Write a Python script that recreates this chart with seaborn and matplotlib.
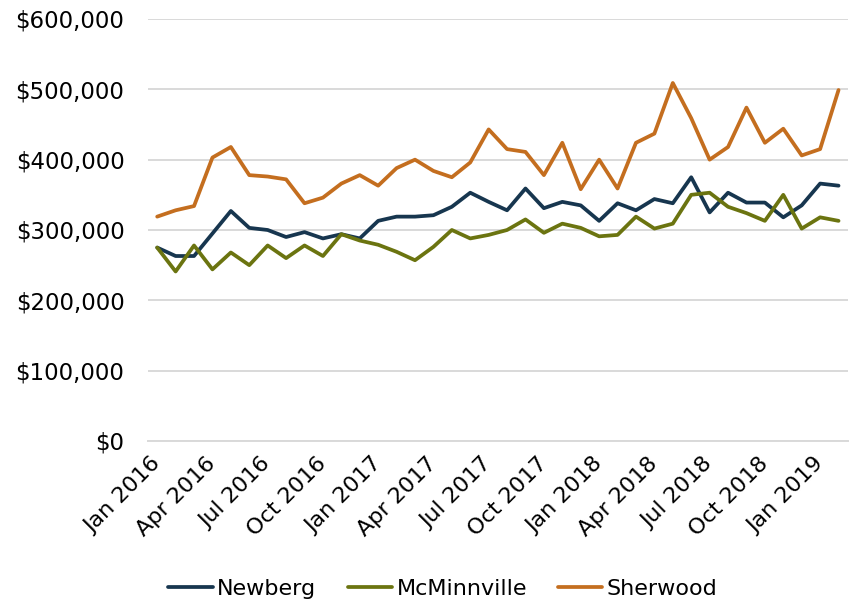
import numpy as np
import pandas as pd
import matplotlib
matplotlib.use("Agg")
import matplotlib.pyplot as plt
import seaborn as sns
from matplotlib.ticker import FuncFormatter, MultipleLocator

# monthly categories Jan 2016 .. Feb 2019
months = pd.date_range("2016-01-01", periods=38, freq="MS")
tick_labels = ["Jan 2016", "Apr 2016", "Jul 2016", "Oct 2016",
               "Jan 2017", "Apr 2017", "Jul 2017", "Oct 2017",
               "Jan 2018", "Apr 2018", "Jul 2018", "Oct 2018", "Jan 2019"]

newberg = [275000, 263000, 263000, 295000, 327000, 303000, 300000, 290000, 297000, 288000,
           294000, 288000, 313000, 319000, 319000, 321000, 333000, 353000, 340000, 328000,
           359000, 331000, 340000, 335000, 313000, 338000, 328000, 344000, 338000, 375000,
           325000, 353000, 339000, 339000, 318000, 335000, 366000, 363000]

mcminnville = [275000, 241000, 278000, 244000, 268000, 250000, 278000, 260000, 278000, 263000,
               294000, 285000, 279000, 269000, 257000, 276000, 300000, 288000, 293000, 300000,
               315000, 296000, 309000, 303000, 291000, 293000, 319000, 302000, 309000, 350000,
               353000, 333000, 324000, 313000, 350000, 302000, 318000, 313000]

sherwood = [319000, 328000, 334000, 403000, 418000, 378000, 376000, 372000, 338000, 346000,
            366000, 378000, 363000, 388000, 400000, 384000, 375000, 396000, 443000, 415000,
            411000, 378000, 424000, 358000, 400000, 359000, 424000, 437000, 509000, 459000,
            400000, 418000, 474000, 424000, 444000, 406000, 415000, 499000]

cities = ["Newberg", "McMinnville", "Sherwood"]
colors = ["#17364f", "#6b7410", "#c46e1f"]

df = pd.DataFrame({
    "idx": np.tile(np.arange(len(months)), 3),
    "city": np.repeat(cities, len(months)),
    "price": newberg + mcminnville + sherwood,
})

sns.set_style("white")
plt.rcParams["font.family"] = ["DejaVu Sans"]
plt.rcParams["text.color"] = "black"
plt.rcParams["xtick.labelcolor"] = "black"
plt.rcParams["ytick.labelcolor"] = "black"

fig = plt.figure(figsize=(8.52, 6.05), dpi=100)
ax = fig.add_axes([0.1737, 0.2711, 0.8213, 0.6975])

sns.lineplot(data=df, x="idx", y="price", hue="city", palette=colors,
             linewidth=2.7, ax=ax, legend=True)

ax.set_xlim(-0.5, len(months) - 0.5)
ax.set_ylim(0, 600000)
ax.yaxis.set_major_locator(MultipleLocator(100000))
ax.yaxis.set_major_formatter(FuncFormatter(lambda v, p: f"${v:,.0f}"))
ax.grid(axis="y", color="#d9d9d9", linewidth=1.4)
ax.set_axisbelow(True)

ax.set_xticks(np.arange(0, len(months), 3))
ax.set_xticklabels(tick_labels, rotation=45, ha="right", va="center",
                   rotation_mode="anchor")
ax.set_xticks(np.arange(-0.5, len(months), 1), minor=True)
ax.tick_params(axis="x", which="major", length=0, pad=14, labelsize=16, labelcolor="black")
ax.tick_params(axis="x", which="minor", length=6, width=1.4, color="#d9d9d9", direction="out")
ax.tick_params(axis="y", length=0, pad=17, labelsize=16.5, labelcolor="black")

for side in ["top", "right", "left"]:
    ax.spines[side].set_visible(False)
ax.spines["bottom"].set_color("#d9d9d9")
ax.spines["bottom"].set_linewidth(1.4)

ax.set_xlabel("")
ax.set_ylabel("")

handles, labels = ax.get_legend_handles_labels()
leg = ax.legend(handles, labels, loc="center", bbox_to_anchor=(0.52, 0.026),
                bbox_transform=fig.transFigure, ncol=3, frameon=False, fontsize=16,
                handlelength=2.0, handletextpad=0.2, columnspacing=1.4)
for t in leg.get_texts():
    t.set_color("black")

fig.savefig("out.png", dpi=100)
